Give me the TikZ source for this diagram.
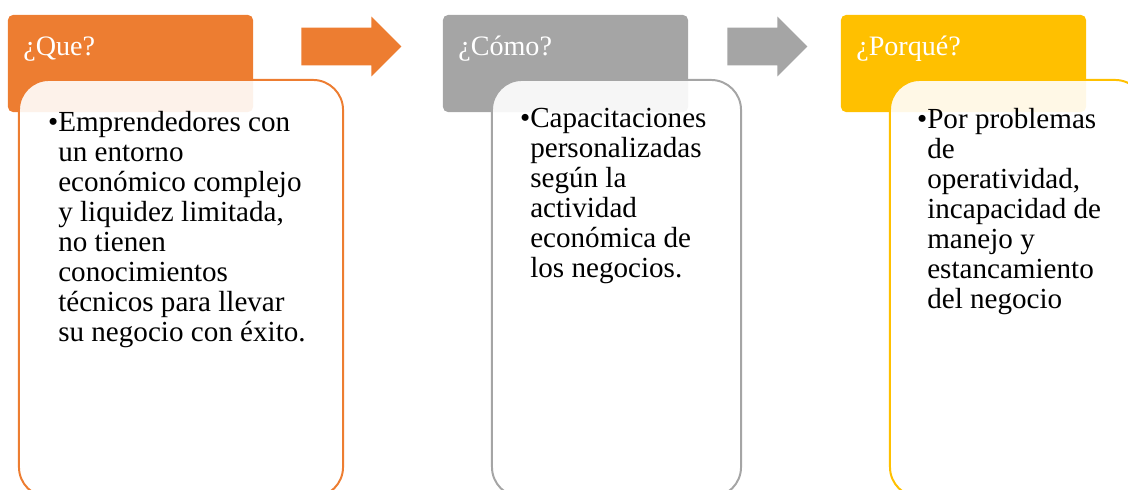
\documentclass[tikz,border=0pt]{standalone}
\usepackage{fontspec}
\setmainfont{Liberation Serif}
\usetikzlibrary{shapes.arrows}
\definecolor{naranja}{HTML}{ED7D31}
\definecolor{gris}{HTML}{A5A5A5}
\definecolor{amarillo}{HTML}{FFC000}
\begin{document}
\begin{tikzpicture}[x=0.025cm,y=-0.025cm]
  \tikzstyle{cabeza}=[rectangle, rounded corners=0.125cm, minimum width=6.125cm, minimum height=2.425cm, inner sep=0pt]
  \tikzstyle{cuerpo}=[rectangle, rounded corners=0.75cm, line width=1.4pt, fill=white, fill opacity=0.9, minimum height=10.425cm, inner sep=0pt]
  \tikzstyle{flecha}=[single arrow, anchor=tail, single arrow head extend=0.28cm, inner xsep=0pt, inner ysep=0.4625cm, text width=0pt]
  \tikzstyle{titulo}=[anchor=base west, inner sep=0pt, text=white, font=\fontsize{20}{21.3}\selectfont]
  \tikzstyle{texto}=[anchor=north west, inner sep=0pt, align=left, font=\fontsize{20.7}{21.3}\selectfont]
  \useasboundingbox (0,0) rectangle (1128,489);
  \node[cabeza, fill=naranja] (cab1) at (130.5,63.5) {};
  \node[cabeza, fill=gris] (cab2) at (565.5,63.5) {};
  \node[cabeza, fill=amarillo] (cab3) at (963.5,63.5) {};
  \node[flecha, fill=naranja, minimum height=2.5cm] (fle1) at (301,46.5) {};
  \node[flecha, fill=gris, minimum height=2cm] (fle2) at (727,46.5) {};
  \node[cuerpo, draw=naranja, minimum width=8.1cm] (cue1) at (181,288.5) {};
  \node[cuerpo, draw=gris, minimum width=6.225cm] (cue2) at (616.5,288.5) {};
  \node[cuerpo, draw=amarillo, minimum width=6.375cm] (cue3) at (1017.5,288.5) {};
  \node[titulo] (tit1) at (23,55) {¿Que?};
  \node[titulo] (tit2) at (458,55) {¿Cómo?};
  \node[titulo] (tit3) at (856,55) {¿Porqué?};
  \node[texto] (tex1) at (58,111) {\llap{\textbullet}Emprendedores con\\un entorno\\económico complejo\\y liquidez limitada,\\no tienen\\conocimientos\\técnicos para llevar\\su negocio con éxito.};
  \node[texto] (tex2) at (530,108) {\llap{\textbullet}Capacitaciones\\personalizadas\\según la\\actividad\\económica de\\los negocios.};
  \node[texto] (tex3) at (927,108) {\llap{\textbullet}Por problemas\\de\\operatividad,\\incapacidad de\\manejo y\\estancamiento\\del negocio};
\end{tikzpicture}
\end{document}
